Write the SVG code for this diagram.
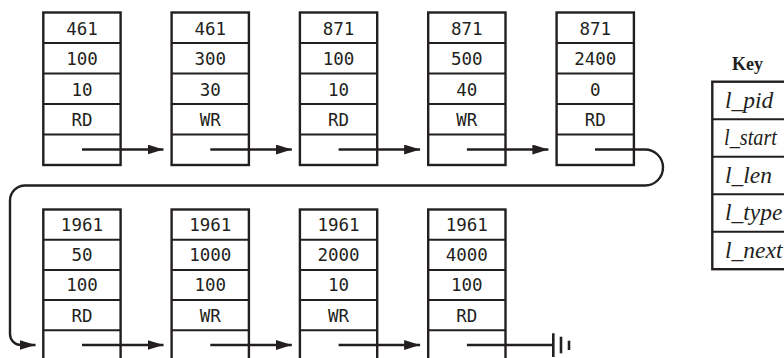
<svg xmlns="http://www.w3.org/2000/svg" width="784" height="358" viewBox="0 0 784 358">
<defs>
<style>
.box{fill:#fff;stroke:#231f20;stroke-width:2.4}
.div{stroke:#231f20;stroke-width:2}
.v{font-family:"DejaVu Sans Mono","Liberation Mono",monospace;font-size:17.5px;fill:#231f20;text-anchor:middle}
.ln{fill:none;stroke:#231f20;stroke-width:2.4}
.k{font-family:"Liberation Serif",serif;font-style:italic;font-size:23.5px;fill:#231f20}
.kt{font-family:"Liberation Serif",serif;font-weight:bold;font-size:18px;fill:#231f20;text-anchor:middle}
</style>
<marker id="ah" markerUnits="userSpaceOnUse" markerWidth="18" markerHeight="12" refX="16" refY="5" orient="auto">
<path d="M0,0 L16,5 L0,10 Z" fill="#231f20"/>
</marker>
<g id="rows5">
<line class="div" x1="0" y1="30.5" x2="77.3" y2="30.5"/>
<line class="div" x1="0" y1="61" x2="77.3" y2="61"/>
<line class="div" x1="0" y1="91.5" x2="77.3" y2="91.5"/>
<line class="div" x1="0" y1="122" x2="77.3" y2="122"/>
</g>
</defs>
<rect width="784" height="358" fill="#fff"/>

<g id="n1" transform="translate(43.3,12.5)">
<rect class="box" x="0" y="0" width="77.3" height="152.5"/><use href="#rows5"/>
<text class="v" x="38.65" y="22">461</text><text class="v" x="38.65" y="52.5">100</text><text class="v" x="38.65" y="83">10</text><text class="v" x="38.65" y="113.5">RD</text>
</g>
<g id="n2" transform="translate(171.6,12.5)">
<rect class="box" x="0" y="0" width="77.3" height="152.5"/><use href="#rows5"/>
<text class="v" x="38.65" y="22">461</text><text class="v" x="38.65" y="52.5">300</text><text class="v" x="38.65" y="83">30</text><text class="v" x="38.65" y="113.5">WR</text>
</g>
<g id="n3" transform="translate(299.9,12.5)">
<rect class="box" x="0" y="0" width="77.3" height="152.5"/><use href="#rows5"/>
<text class="v" x="38.65" y="22">871</text><text class="v" x="38.65" y="52.5">100</text><text class="v" x="38.65" y="83">10</text><text class="v" x="38.65" y="113.5">RD</text>
</g>
<g id="n4" transform="translate(428.2,12.5)">
<rect class="box" x="0" y="0" width="77.3" height="152.5"/><use href="#rows5"/>
<text class="v" x="38.65" y="22">871</text><text class="v" x="38.65" y="52.5">500</text><text class="v" x="38.65" y="83">40</text><text class="v" x="38.65" y="113.5">WR</text>
</g>
<g id="n5" transform="translate(556.6,12.5)">
<rect class="box" x="0" y="0" width="77.3" height="152.5"/><use href="#rows5"/>
<text class="v" x="38.65" y="22">871</text><text class="v" x="38.65" y="52.5">2400</text><text class="v" x="38.65" y="83">0</text><text class="v" x="38.65" y="113.5">RD</text>
</g>

<g id="n6" transform="translate(43.3,209.5)">
<rect class="box" x="0" y="0" width="77.3" height="170"/><use href="#rows5" transform="scale(1,0.99)"/>
<text class="v" x="38.65" y="21.5">1961</text><text class="v" x="38.65" y="51.5">50</text><text class="v" x="38.65" y="81.5">100</text><text class="v" x="38.65" y="112">RD</text>
</g>
<g id="n7" transform="translate(171.6,209.5)">
<rect class="box" x="0" y="0" width="77.3" height="170"/><use href="#rows5" transform="scale(1,0.99)"/>
<text class="v" x="38.65" y="21.5">1961</text><text class="v" x="38.65" y="51.5">1000</text><text class="v" x="38.65" y="81.5">100</text><text class="v" x="38.65" y="112">WR</text>
</g>
<g id="n8" transform="translate(299.9,209.5)">
<rect class="box" x="0" y="0" width="77.3" height="170"/><use href="#rows5" transform="scale(1,0.99)"/>
<text class="v" x="38.65" y="21.5">1961</text><text class="v" x="38.65" y="51.5">2000</text><text class="v" x="38.65" y="81.5">10</text><text class="v" x="38.65" y="112">WR</text>
</g>
<g id="n9" transform="translate(428.2,209.5)">
<rect class="box" x="0" y="0" width="77.3" height="170"/><use href="#rows5" transform="scale(1,0.99)"/>
<text class="v" x="38.65" y="21.5">1961</text><text class="v" x="38.65" y="51.5">4000</text><text class="v" x="38.65" y="81.5">100</text><text class="v" x="38.65" y="112">RD</text>
</g>

<g id="connectors">
<line class="ln" x1="82" y1="149.5" x2="163.5" y2="149.5" marker-end="url(#ah)"/>
<line class="ln" x1="210.3" y1="149.5" x2="291.8" y2="149.5" marker-end="url(#ah)"/>
<line class="ln" x1="338.6" y1="149.5" x2="420.1" y2="149.5" marker-end="url(#ah)"/>
<line class="ln" x1="466.9" y1="149.5" x2="548.4" y2="149.5" marker-end="url(#ah)"/>
<path class="ln" d="M595 149.5 H645 A18 18 0 0 1 645 185.5 H25 A15 15 0 0 0 10 200.5 V334 A11 11 0 0 0 21 345 H35.5" marker-end="url(#ah)"/>
<line class="ln" x1="82" y1="345" x2="163.5" y2="345" marker-end="url(#ah)"/>
<line class="ln" x1="210.3" y1="345" x2="291.8" y2="345" marker-end="url(#ah)"/>
<line class="ln" x1="338.6" y1="345" x2="420.1" y2="345" marker-end="url(#ah)"/>
<line class="ln" x1="466.9" y1="345" x2="553.3" y2="345"/>
<line x1="553.3" y1="333.3" x2="553.3" y2="357" stroke="#231f20" stroke-width="2.6"/>
<line x1="561" y1="336.7" x2="561" y2="353.3" stroke="#231f20" stroke-width="2.6"/>
<line x1="569" y1="340.7" x2="569" y2="350" stroke="#231f20" stroke-width="2.6"/>
</g>

<g id="key">
<text class="kt" x="747.5" y="70">Key</text>
<rect class="box" x="712.3" y="81.7" width="90" height="187.5"/>
<line class="div" x1="712.3" y1="119.2" x2="790" y2="119.2"/>
<line class="div" x1="712.3" y1="156.7" x2="790" y2="156.7"/>
<line class="div" x1="712.3" y1="194.2" x2="790" y2="194.2"/>
<line class="div" x1="712.3" y1="231.7" x2="790" y2="231.7"/>
<text class="k" x="725" y="107.5">l_pid</text>
<text class="k" x="724" y="145" textLength="53" lengthAdjust="spacingAndGlyphs">l_start</text>
<text class="k" x="725" y="182.5">l_len</text>
<text class="k" x="725" y="220">l_type</text>
<text class="k" x="725" y="257.5">l_next</text>
</g>
</svg>
